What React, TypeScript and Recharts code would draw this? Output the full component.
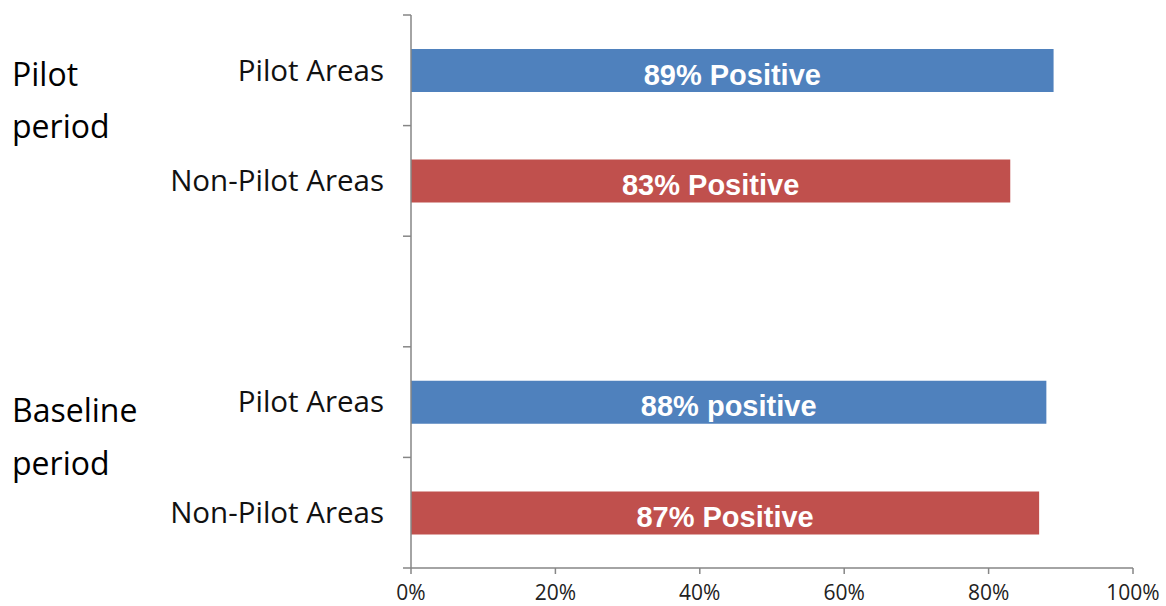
import { BarChart, Bar, XAxis, YAxis, Cell, LabelList } from "recharts";

const categories = ["Pilot Areas", "Non-Pilot Areas", "", "Pilot Areas", "Non-Pilot Areas"];
const areaTypes = ["pilot", "nonPilot", "", "pilot", "nonPilot"];
const positiveShare = [0.89, 0.83, null, 0.88, 0.87];
const barLabels = ["89% Positive", "83% Positive", "", "88% positive", "87% Positive"];
const periodLabels = [["Pilot", "period"], ["Baseline", "period"]];
const xTicks = [0, 0.2, 0.4, 0.6, 0.8, 1];

const COLORS: Record<string, string> = { pilot: "#4F81BD", nonPilot: "#C0504D" };
const AXIS = "#868686";
const TICK_SIZE = 8;
const TICK_MARGIN = 19;

const data = categories.map((name, i) => ({
  name,
  value: positiveShare[i],
  label: barLabels[i],
  type: areaTypes[i],
}));

const CategoryTick = (props: any) => {
  const { x, y, payload, index } = props;
  const half = payload?.offset ?? 55.3;
  const axisX = x + TICK_SIZE + TICK_MARGIN;
  const last = index === categories.length - 1;
  return (
    <g>
      <line x1={axisX - TICK_SIZE} x2={axisX} y1={y - half} y2={y - half} stroke={AXIS} strokeWidth={1.5} />
      {last && <line x1={axisX - TICK_SIZE} x2={axisX} y1={y + half} y2={y + half} stroke={AXIS} strokeWidth={1.5} />}
      {payload.value && (
        <text x={x} y={y} dy="0.35em" textAnchor="end" fontSize={29.5} fontFamily="'Open Sans', sans-serif" fill="#111">
          {payload.value}
        </text>
      )}
    </g>
  );
};

const renderBarLabel = (props: any) => {
  const { x, y, width, height, value } = props;
  if (!value) return null;
  return (
    <text
      x={x + width / 2}
      y={y + height / 2 + 4}
      textAnchor="middle"
      dominantBaseline="central"
      fill="#fff"
      fontWeight="bold"
      fontSize={29}
      fontFamily="'Liberation Sans', Arial, sans-serif"
    >
      {value}
    </text>
  );
};

export default function App() {
  return (
    <div style={{ position: "absolute", left: 0, top: 0, width: 1166, height: 606, background: "#fff" }}>
      <BarChart
        width={1166}
        height={606}
        data={data}
        layout="vertical"
        margin={{ top: 15, right: 33, bottom: 0, left: 0 }}
      >
        <XAxis
          type="number"
          domain={[0, 1]}
          ticks={xTicks}
          tickFormatter={(v: number) => `${Math.round(v * 100)}%`}
          height={38}
          axisLine={{ stroke: AXIS, strokeWidth: 1.5 }}
          tickLine={{ stroke: AXIS, strokeWidth: 1.5 }}
          tickSize={6}
          tickMargin={11}
          tick={{ fill: "#222", fontSize: 21, fontFamily: "'Open Sans', sans-serif" }}
        />
        <YAxis
          type="category"
          dataKey="name"
          width={411}
          interval={0}
          axisLine={{ stroke: AXIS, strokeWidth: 1.5 }}
          tickLine={false}
          tickSize={TICK_SIZE}
          tickMargin={TICK_MARGIN}
          tick={<CategoryTick />}
        />
        <Bar dataKey="value" barSize={43} isAnimationActive={false}>
          {data.map((d, i) => (
            <Cell key={`cell-${i}`} fill={COLORS[d.type] || "transparent"} />
          ))}
          <LabelList dataKey="label" content={renderBarLabel} />
        </Bar>
      </BarChart>
      <svg width={300} height={606} style={{ position: "absolute", left: 0, top: 0, pointerEvents: "none" }}>
        <g fontFamily="'Open Sans', sans-serif" fontSize={32} fill="#000">
          <text x={12} y={86}>{periodLabels[0][0]}</text>
          <text x={12} y={138}>{periodLabels[0][1]}</text>
          <text x={12} y={422}>{periodLabels[1][0]}</text>
          <text x={12} y={475}>{periodLabels[1][1]}</text>
        </g>
      </svg>
    </div>
  );
}
